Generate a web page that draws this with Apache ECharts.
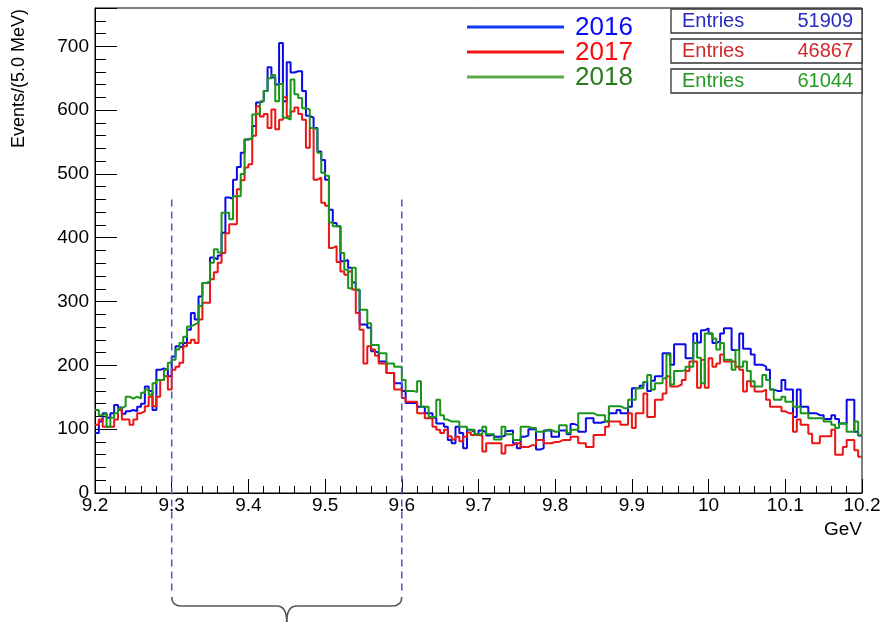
<!DOCTYPE html>
<html><head><meta charset="utf-8">
<script src="https://cdn.jsdelivr.net/npm/echarts@6/dist/echarts.min.js"></script>
<style>html,body{margin:0;padding:0;background:#fff}#c{width:885px;height:623px}</style>
</head><body><div id="c"></div>
<script>
// ---- data ----
const binLow = 9.2;
const binWidth = 0.005;
const xMin = 9.2, xMax = 10.2;
const yMin = 0, yMax = 760;
const years = ['2016', '2017', '2018'];
const entries = ['51909', '46867', '61044'];
const windowLow = 9.3, windowHigh = 9.6;

const y2016 = [
94,112,125,118,125,138,134,124,128,130,128,135,140,167,160,130,193,195,193,183,
214,230,228,235,256,282,272,308,329,330,369,366,372,408,463,461,491,511,533,554,
556,575,612,614,630,667,651,640,705,614,675,659,661,661,630,591,588,572,535,522,
491,444,423,418,363,365,353,330,318,264,264,259,222,220,206,206,188,188,172,172,
160,141,141,141,135,135,125,125,118,109,109,104,83,78,104,94,70,99,96,92,
98,95,90,92,88,88,90,97,98,78,70,88,90,100,100,68,70,98,98,88,
88,98,98,92,108,106,96,96,117,117,110,110,112,112,125,125,130,125,125,135,
164,164,168,174,160,176,183,183,219,219,201,233,233,233,211,211,250,236,255,258,
250,235,238,250,258,258,224,224,250,226,226,217,201,201,198,193,162,160,160,177,
162,162,119,162,135,135,125,125,122,122,116,116,122,116,109,109,146,146,96,90
];
const y2017 = [
107,115,104,104,104,115,130,115,115,107,115,125,128,136,151,136,151,177,183,162,
193,198,204,230,235,240,235,272,298,298,335,346,361,376,407,421,421,476,490,510,
515,560,606,590,594,572,601,570,585,620,590,598,604,594,585,541,572,491,494,455,
450,384,387,362,347,342,347,319,282,256,203,230,225,215,203,203,188,188,162,162,
149,143,143,143,125,125,117,117,104,99,94,99,89,84,88,81,88,95,91,91,
90,65,78,78,78,78,62,75,75,78,78,72,72,75,75,83,83,78,78,80,
80,83,83,83,88,88,78,78,72,72,91,91,91,104,112,112,112,107,107,125,
102,125,125,156,119,119,146,146,156,183,167,167,170,177,191,206,206,165,209,165,
211,198,203,217,206,206,206,198,193,159,175,167,159,159,162,146,135,135,135,128,
125,125,96,115,107,107,93,78,78,89,89,89,99,60,60,72,83,83,67,57
];
const y2018 = [
130,122,125,104,118,125,133,136,151,148,151,148,157,162,154,172,177,177,193,204,
209,225,235,245,261,264,267,293,329,332,361,382,377,439,439,429,465,465,500,554,
556,593,595,614,630,650,655,614,641,588,585,648,625,619,603,601,572,570,533,502,
497,424,418,418,376,350,321,353,319,287,287,266,232,232,219,219,203,203,198,198,
177,160,160,158,175,135,135,119,119,146,122,115,112,112,112,104,104,99,99,92,
92,104,92,92,84,84,104,92,92,83,83,104,104,102,102,96,96,99,99,96,
96,106,106,94,99,99,125,125,125,125,122,122,122,112,136,136,136,133,133,146,
146,164,164,174,185,162,172,172,180,217,170,191,191,193,198,198,235,212,172,250,
250,242,225,235,209,209,193,224,198,206,191,175,167,167,185,177,162,146,146,151,
143,143,135,135,125,125,117,117,117,117,112,112,107,102,109,109,96,96,112,90
];

// ---- styles ----
const FONT = '"Liberation Sans", Arial, Helvetica, sans-serif';
const lineColors = ['#0a0ae6', '#ea1515', '#1a951a'];
const legendLineColors = ['#1038f2', '#f01414', '#5ea84c'];
const legendTextColors = ['#0a0aff', '#ff0a0a', '#2b7a1e'];
const statColors = ['#2a2ac0', '#d02a2a', '#229a22'];

function steps(arr) {
  const pts = arr.map((v, i) => [+(binLow + i * binWidth).toFixed(4), v]);
  pts.push([+(binLow + arr.length * binWidth).toFixed(4), arr[arr.length - 1]]);
  return pts;
}

const chart = echarts.init(document.getElementById('c'), null, {renderer: 'canvas'});
const seriesData = [y2016, y2017, y2018];

const option = {
  animation: false,
  backgroundColor: '#fff',
  grid: {left: 95, right: 23, top: 8, bottom: 130, show: true, borderColor: '#000', borderWidth: 1},
  xAxis: [{
    type: 'value', min: xMin, max: xMax, interval: 0.1,
    axisLine: {show: true, onZero: false, lineStyle: {color: '#000', width: 1}},
    axisTick: {show: true, inside: true, length: 14, lineStyle: {color: '#000', width: 1}},
    minorTick: {show: true, splitNumber: 5, length: 7, lineStyle: {color: '#000', width: 1}},
    axisLabel: {color: '#000', fontSize: 19, fontFamily: FONT, margin: 3,
      formatter: v => String(Math.round(v * 10) / 10)},
    splitLine: {show: false}
  }],
  yAxis: [{
    type: 'value', min: yMin, max: yMax, interval: 100, position: 'left',
    axisLine: {show: true, onZero: false, lineStyle: {color: '#000', width: 1}},
    axisTick: {show: true, inside: true, length: 22, lineStyle: {color: '#000', width: 1}},
    axisLabel: {color: '#000', fontSize: 19, fontFamily: FONT, margin: 6,
      formatter: v => (v % 100 === 0 && v <= 700) ? String(v) : ''},
    splitLine: {show: false}
  }, {
    type: 'value', min: yMin, max: yMax, interval: 20, position: 'left',
    axisLine: {show: false},
    axisTick: {show: true, inside: true, length: 11, lineStyle: {color: '#000', width: 1}},
    axisLabel: {show: false},
    splitLine: {show: false}
  }],
  series: seriesData.map((arr, k) => ({
    name: years[k], type: 'line', step: 'end', showSymbol: false, symbol: 'none',
    xAxisIndex: 0, yAxisIndex: 0,
    lineStyle: {color: lineColors[k], width: 2},
    itemStyle: {color: lineColors[k]},
    data: steps(arr), z: 3 + k
  }))
};
chart.setOption(option);

const px = v => chart.convertToPixel({xAxisIndex: 0}, v);
const py = v => chart.convertToPixel({yAxisIndex: 0}, v);

const g = [];
// y title
g.push({type: 'text', x: 19, y: 9, rotation: Math.PI / 2,
  style: {text: 'Events/(5.0 MeV)', fill: '#000', font: '18px ' + FONT,
    align: 'right', textAlign: 'right', verticalAlign: 'middle', textVerticalAlign: 'middle'}});
// GeV
g.push({type: 'text', x: 862, y: 530,
  style: {text: 'GeV', fill: '#000', font: '19px ' + FONT,
    align: 'right', textAlign: 'right', verticalAlign: 'middle', textVerticalAlign: 'middle'}});
// legend
const legY = [27, 52, 77];
years.forEach((yr, k) => {
  g.push({type: 'line', shape: {x1: 467, y1: legY[k], x2: 564, y2: legY[k]},
    style: {stroke: legendLineColors[k], lineWidth: 3}, z: 10});
  g.push({type: 'text', x: 575, y: legY[k] + 1,
    style: {text: yr, fill: legendTextColors[k], font: '26px ' + FONT,
      align: 'left', textAlign: 'left', verticalAlign: 'middle', textVerticalAlign: 'middle'}, z: 10});
});
// stats boxes
const boxY = [9, 39, 69];
entries.forEach((en, k) => {
  g.push({type: 'rect', shape: {x: 671, y: boxY[k], width: 191, height: 24},
    style: {fill: '#fff', stroke: '#333', lineWidth: 1.3}, z: 10});
  g.push({type: 'text', x: 682, y: boxY[k] + 12.5,
    style: {text: 'Entries', fill: statColors[k], font: '20px ' + FONT,
      align: 'left', textAlign: 'left', verticalAlign: 'middle', textVerticalAlign: 'middle'}, z: 11});
  g.push({type: 'text', x: 853, y: boxY[k] + 12.5,
    style: {text: en, fill: statColors[k], font: '20px ' + FONT,
      align: 'right', textAlign: 'right', verticalAlign: 'middle', textVerticalAlign: 'middle'}, z: 11});
});
// dashed window lines
const xl = px(windowLow), xr = px(windowHigh), yTop = py(460);
[xl, xr].forEach(x => {
  g.push({type: 'line', shape: {x1: x, y1: yTop, x2: x, y2: 593},
    style: {stroke: '#5a4fcf', lineWidth: 1.5, lineDash: [7, 5]}, z: 9});
});
// brace
const xm = (xl + xr) / 2;
const braceStyle = {stroke: '#555', lineWidth: 1.6, fill: null};
g.push({type: 'bezierCurve', shape: {x1: xl, y1: 597, cpx1: xl, cpy1: 606, x2: xl + 10, y2: 606}, style: braceStyle, z: 9});
g.push({type: 'line', shape: {x1: xl + 10, y1: 606, x2: xm - 10, y2: 606}, style: braceStyle, z: 9});
g.push({type: 'bezierCurve', shape: {x1: xm - 10, y1: 606, cpx1: xm, cpy1: 606, x2: xm, y2: 622}, style: braceStyle, z: 9});
g.push({type: 'bezierCurve', shape: {x1: xm, y1: 622, cpx1: xm, cpy1: 606, x2: xm + 10, y2: 606}, style: braceStyle, z: 9});
g.push({type: 'line', shape: {x1: xm + 10, y1: 606, x2: xr - 10, y2: 606}, style: braceStyle, z: 9});
g.push({type: 'bezierCurve', shape: {x1: xr - 10, y1: 606, cpx1: xr, cpy1: 606, x2: xr, y2: 597}, style: braceStyle, z: 9});

chart.setOption({graphic: {elements: g}});
</script>
</body></html>
